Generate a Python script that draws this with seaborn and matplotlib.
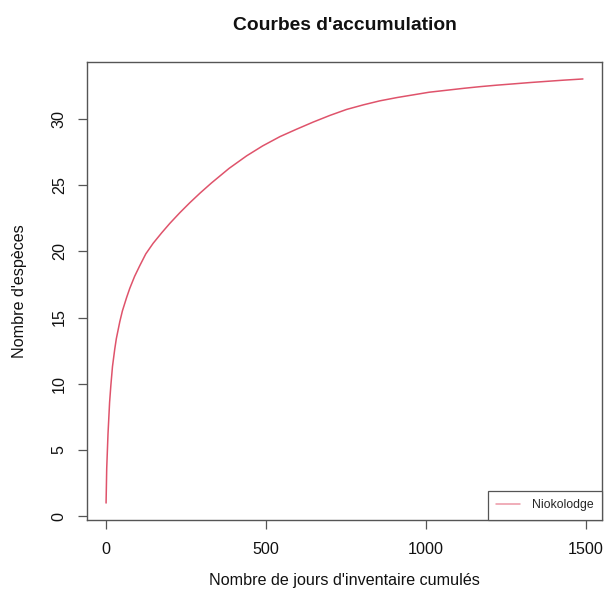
import matplotlib
matplotlib.use("Agg")
import matplotlib.pyplot as plt
import seaborn as sns
import pandas as pd

# Species accumulation curve for the Niokolodge site
site = "Niokolodge"
days = [1, 3, 7, 12, 16, 21, 28, 33, 44, 52, 65, 75, 90, 106, 125, 148, 175,
        200, 231, 262, 295, 330, 385, 440, 490, 544, 595, 648, 700, 752, 805,
        856, 910, 960, 1010, 1065, 1120, 1169, 1220, 1273, 1325, 1377, 1430, 1490]
species = [1.0, 3.6, 6.2, 8.6, 9.9, 11.3, 12.6, 13.4, 14.7, 15.5, 16.5, 17.2,
           18.1, 18.9, 19.8, 20.6, 21.4, 22.1, 22.9, 23.65, 24.4, 25.15, 26.25,
           27.2, 27.95, 28.65, 29.2, 29.75, 30.25, 30.7, 31.05, 31.35, 31.6,
           31.8, 32.0, 32.15, 32.3, 32.42, 32.53, 32.63, 32.73, 32.82, 32.91, 33.0]
x_ticks = [0, 500, 1000, 1500]
y_ticks = [0, 5, 10, 15, 20, 25, 30]

title = "Courbes d'accumulation"
x_label = "Nombre de jours d'inventaire cumulés"
y_label = "Nombre d'espèces"

df = pd.DataFrame({"jours": days, "especes": species, "site": site})

sns.set_style("white")
plt.rcParams["font.family"] = ["Liberation Sans", "DejaVu Sans"]

W, H = 605, 596
fig = plt.figure(figsize=(W / 100, H / 100), dpi=100)
left, right, top, bottom = 87, 602, 62, 520
ax = fig.add_axes([left / W, 1 - bottom / H, (right - left) / W, (bottom - top) / H])

sns.lineplot(data=df, x="jours", y="especes", hue="site", palette=["#DF536B"],
             linewidth=1.1, ax=ax)

# 4% padding around the data range
xr = max(days) - min(days)
yr = max(species) - min(species)
ax.set_xlim(min(days) - 0.04 * xr, max(days) + 0.04 * xr)
ax.set_ylim(min(species) - 0.04 * yr, max(species) + 0.04 * yr)

ax.set_xticks(x_ticks)
ax.set_yticks(y_ticks)
ax.set_xticklabels([str(t) for t in x_ticks])
ax.set_yticklabels([str(t) for t in y_ticks], rotation=90, va="center")
ax.tick_params(axis="both", direction="out", length=6.5, width=0.9, color="#555555",
               labelsize=11.6, labelcolor="#111111", bottom=True, left=True)
ax.tick_params(axis="x", pad=9)
ax.tick_params(axis="y", pad=8)
ax.set_xlabel("")
ax.set_ylabel("")
for s in ax.spines.values():
    s.set_visible(True)
    s.set_color("#555555")
    s.set_linewidth(1.0)

fig.text(0.5 * (left + right) / W, 1 - 580 / H, x_label, ha="center", va="center",
         fontsize=11.6, color="#111111")
fig.text(20 / W, 1 - 0.5 * (top + bottom) / H, y_label, ha="center", va="center",
         rotation=90, fontsize=11.6, color="#111111")
fig.text(0.5 * (left + right) / W, 1 - 25 / H, title, ha="center", va="center",
         fontsize=13.9, fontweight="bold", color="#111111")

leg = ax.legend(loc="lower right", borderaxespad=0, fancybox=False, framealpha=1,
                edgecolor="#555555", fontsize=8.8, handlelength=1.9,
                handletextpad=1.0, borderpad=0.7, title=None)
leg.get_frame().set_linewidth(0.9)
for h in leg.get_lines():
    h.set_alpha(0.6)

fig.savefig("out.png", dpi=100)
